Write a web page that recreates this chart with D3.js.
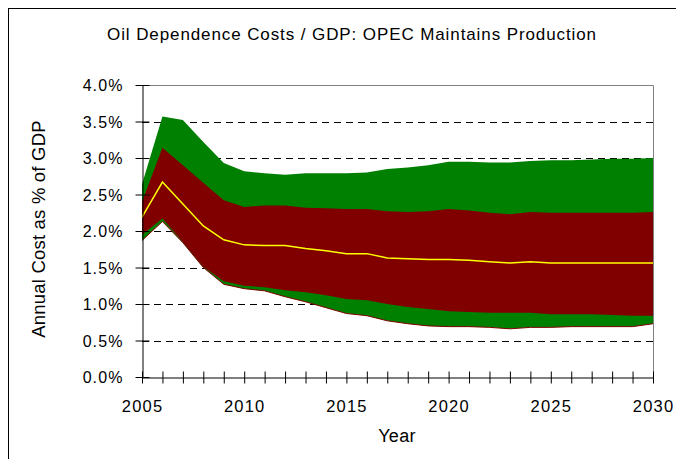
<!DOCTYPE html>
<html><head><meta charset="utf-8">
<script src="https://cdn.jsdelivr.net/npm/d3@7"></script>
<style>html,body{margin:0;padding:0;background:#fff;}svg{display:block;font-family:"Liberation Sans",Arial,sans-serif;}</style>
</head><body>
<svg id="c" width="676" height="459"></svg>
<script>
const years = d3.range(2005, 2031);
const greenLow  = [1.87,2.13,1.84,1.50,1.27,1.21,1.18,1.10,1.03,0.95,0.87,0.84,0.77,0.73,0.70,0.69,0.69,0.68,0.66,0.68,0.68,0.69,0.69,0.69,0.69,0.73];
const redLow    = [1.95,2.17,1.85,1.51,1.31,1.25,1.23,1.19,1.16,1.12,1.07,1.05,1.00,0.96,0.93,0.90,0.89,0.88,0.88,0.88,0.86,0.86,0.86,0.85,0.84,0.84];
const median    = [2.19,2.67,2.37,2.07,1.88,1.81,1.80,1.80,1.76,1.73,1.69,1.69,1.63,1.62,1.61,1.61,1.60,1.58,1.56,1.58,1.56,1.56,1.56,1.56,1.56,1.56];
const redHigh   = [2.40,3.14,2.90,2.66,2.42,2.33,2.35,2.35,2.32,2.31,2.30,2.30,2.27,2.26,2.27,2.30,2.28,2.25,2.23,2.26,2.25,2.25,2.25,2.25,2.25,2.26];
const greenHigh = [2.64,3.57,3.52,3.22,2.93,2.82,2.79,2.77,2.79,2.79,2.79,2.80,2.85,2.87,2.90,2.95,2.95,2.94,2.94,2.96,2.97,2.97,2.98,2.99,2.99,3.00];
const yTicks = [0,0.5,1,1.5,2,2.5,3,3.5,4];
const xLabels = [2005,2010,2015,2020,2025,2030];
const title = "Oil Dependence Costs / GDP: OPEC Maintains Production";
const yTitle = "Annual Cost as % of GDP";
const xTitle = "Year";

const svg = d3.select("#c");
const x = d3.scaleLinear().domain([2005,2030]).range([142,653]);
const y = d3.scaleLinear().domain([0,4]).range([377,85]);

// outer chart border
svg.append("rect").attr("x",8.5).attr("y",8.5).attr("width",720).attr("height",520)
  .attr("fill","none").attr("stroke","#000").attr("stroke-width",1);

// gridlines
svg.append("g").selectAll("line").data(yTicks.filter(t=>t>0&&t<4)).join("line")
  .attr("x1",x(2005)).attr("x2",x(2030))
  .attr("y1",d=>Math.round(y(d))+0.5).attr("y2",d=>Math.round(y(d))+0.5)
  .attr("stroke","#000").attr("stroke-dasharray","7,5").attr("stroke-width",1);

const data = years.map((yr,i)=>({yr, gl:greenLow[i], rl:redLow[i], m:median[i], rh:redHigh[i], gh:greenHigh[i]}));

svg.append("path").datum(data)
  .attr("d", d3.area().x(d=>x(d.yr)).y0(d=>y(d.gl)).y1(d=>y(d.gh)))
  .attr("fill","#008000");
svg.append("path").datum(data)
  .attr("d", d3.area().x(d=>x(d.yr)).y0(d=>y(d.rl)).y1(d=>y(d.rh)))
  .attr("fill","#800000");
svg.append("path").datum(data)
  .attr("d", d3.line().x(d=>x(d.yr)).y(d=>y(d.gl)))
  .attr("fill","none").attr("stroke","#800000").attr("stroke-width",1);
svg.append("path").datum(data)
  .attr("d", d3.line().x(d=>x(d.yr)).y(d=>y(d.m)))
  .attr("fill","none").attr("stroke","#FFFF00").attr("stroke-width",1.5);

// plot area top & right border
svg.append("path")
  .attr("d",`M${x(2005)},${Math.round(y(4))+0.5}H${Math.round(x(2030))+0.5}V${Math.round(y(0))}`)
  .attr("fill","none").attr("stroke","#808080").attr("stroke-width",1);

// y axis
const yAxis = d3.axisLeft(y).tickValues(yTicks).tickSize(0).tickFormat(d=>d.toFixed(1)+"%");
const gy = svg.append("g").attr("transform",`translate(${Math.round(x(2005))+0.5},0)`).call(yAxis);
gy.select(".domain").attr("stroke","#000");
gy.selectAll(".tick text").attr("x",-19).attr("dy","0.35em").attr("font-size",16).attr("letter-spacing","1.1px")
  .attr("font-family","Liberation Sans, Arial, sans-serif").attr("fill","#000");
gy.selectAll(".tick").append("line").attr("x1",-7).attr("x2",7).attr("stroke","#000");

// x axis
const xAxis = d3.axisBottom(x).tickValues(years).tickSize(0).tickFormat(d=>xLabels.includes(d)?String(d):"");
const gx = svg.append("g").attr("transform",`translate(0,${Math.round(y(0))+0.5})`).call(xAxis);
gx.select(".domain").attr("stroke","#000");
gx.selectAll(".tick text").attr("y",34).attr("dy",0).attr("font-size",16.5).attr("letter-spacing","1.2px")
  .attr("font-family","Liberation Sans, Arial, sans-serif").attr("fill","#000");
gx.selectAll(".tick").append("line").attr("y1",-6).attr("y2",6).attr("stroke","#000");

// titles
svg.append("text").attr("x",352).attr("y",39.5).attr("text-anchor","middle").attr("font-size",17).attr("letter-spacing","0.9px").text(title);
svg.append("text").attr("x",397).attr("y",441.5).attr("text-anchor","middle").attr("font-size",18).attr("letter-spacing","0.3px").text(xTitle);
svg.append("text").attr("transform","translate(45,229) rotate(-90)").attr("text-anchor","middle").attr("font-size",18.5).attr("letter-spacing","0.2px").text(yTitle);
</script>
</body></html>
